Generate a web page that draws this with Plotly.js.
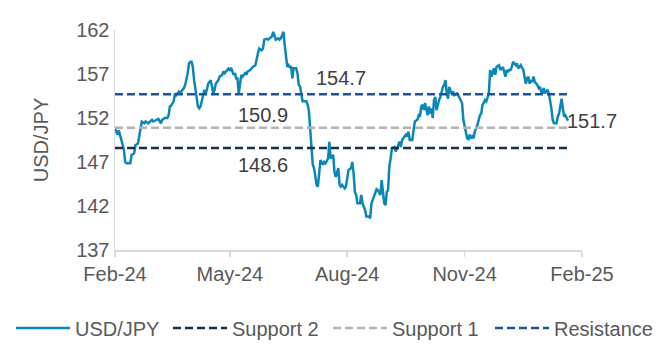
<!DOCTYPE html>
<html>
<head>
<meta charset="utf-8">
<script src="https://cdn.plot.ly/plotly-3.0.1.min.js"></script>
<style>
  html, body { margin: 0; padding: 0; background: #ffffff; }
  #chart { width: 657px; height: 362px; }
</style>
</head>
<body>
<div id="chart"></div>
<script>
// ---- data ----
var dates = [
  "2024-02-01","2024-02-03","2024-02-04","2024-02-05","2024-02-08","2024-02-09","2024-02-10","2024-02-13","2024-02-14","2024-02-16","2024-02-17","2024-02-19","2024-02-21","2024-02-22","2024-02-24","2024-02-25","2024-02-27","2024-02-29",
  "2024-03-01","2024-03-02","2024-03-04","2024-03-06","2024-03-08","2024-03-09","2024-03-11","2024-03-13","2024-03-14","2024-03-15","2024-03-16","2024-03-18","2024-03-19","2024-03-20","2024-03-22","2024-03-23","2024-03-24","2024-03-26","2024-03-27","2024-03-28","2024-03-29","2024-03-30","2024-03-31",
  "2024-04-01","2024-04-02","2024-04-03","2024-04-04","2024-04-05","2024-04-06","2024-04-07","2024-04-08","2024-04-09","2024-04-10","2024-04-11","2024-04-12","2024-04-13","2024-04-14","2024-04-16","2024-04-17","2024-04-18","2024-04-19","2024-04-20","2024-04-22","2024-04-23","2024-04-25","2024-04-26","2024-04-27","2024-04-29","2024-04-30",
  "2024-05-01","2024-05-02","2024-05-04","2024-05-05","2024-05-06","2024-05-07","2024-05-08","2024-05-09","2024-05-10","2024-05-11","2024-05-13","2024-05-14","2024-05-15","2024-05-17","2024-05-18","2024-05-19","2024-05-21","2024-05-22","2024-05-23","2024-05-24","2024-05-26","2024-05-27","2024-05-28","2024-05-30","2024-05-31",
  "2024-06-01","2024-06-03","2024-06-04","2024-06-05","2024-06-06","2024-06-08","2024-06-09","2024-06-10","2024-06-12","2024-06-13","2024-06-14","2024-06-15","2024-06-16","2024-06-17","2024-06-18","2024-06-19","2024-06-20","2024-06-22","2024-06-23","2024-06-24","2024-06-25","2024-06-26","2024-06-27","2024-06-30",
  "2024-07-01","2024-07-02","2024-07-04","2024-07-05","2024-07-06","2024-07-08","2024-07-09","2024-07-10","2024-07-11","2024-07-13","2024-07-14","2024-07-15","2024-07-17","2024-07-18","2024-07-19","2024-07-21","2024-07-22","2024-07-23","2024-07-25","2024-07-26","2024-07-27","2024-07-28","2024-07-30","2024-07-31",
  "2024-08-01","2024-08-02","2024-08-04","2024-08-05","2024-08-06","2024-08-07","2024-08-08","2024-08-09","2024-08-11","2024-08-12","2024-08-13","2024-08-14","2024-08-15","2024-08-16","2024-08-18","2024-08-19","2024-08-20","2024-08-21","2024-08-23","2024-08-24","2024-08-25","2024-08-27","2024-08-28","2024-08-29","2024-08-30","2024-08-31",
  "2024-09-01","2024-09-02","2024-09-03","2024-09-04","2024-09-05","2024-09-07","2024-09-08","2024-09-09","2024-09-11","2024-09-12","2024-09-13","2024-09-14","2024-09-16","2024-09-17","2024-09-18","2024-09-19","2024-09-21","2024-09-22","2024-09-23","2024-09-25","2024-09-26","2024-09-27","2024-09-28","2024-09-29","2024-09-30",
  "2024-10-01","2024-10-02","2024-10-03","2024-10-04","2024-10-05","2024-10-06","2024-10-07","2024-10-08","2024-10-09","2024-10-10","2024-10-11","2024-10-12","2024-10-13","2024-10-14","2024-10-15","2024-10-16","2024-10-17","2024-10-18","2024-10-19","2024-10-20","2024-10-21","2024-10-22","2024-10-23","2024-10-24","2024-10-26","2024-10-27","2024-10-29","2024-10-30","2024-10-31",
  "2024-11-01","2024-11-02","2024-11-03","2024-11-04","2024-11-05","2024-11-06","2024-11-07","2024-11-08","2024-11-09","2024-11-11","2024-11-12","2024-11-13","2024-11-14","2024-11-15","2024-11-16","2024-11-17","2024-11-18","2024-11-19","2024-11-20","2024-11-21","2024-11-22","2024-11-23","2024-11-24","2024-11-25","2024-11-26","2024-11-27","2024-11-28","2024-11-29",
  "2024-12-01","2024-12-03","2024-12-04","2024-12-05","2024-12-06","2024-12-07","2024-12-08","2024-12-09","2024-12-11","2024-12-12","2024-12-13","2024-12-14","2024-12-15","2024-12-17","2024-12-18","2024-12-19","2024-12-20","2024-12-21","2024-12-22","2024-12-23","2024-12-24","2024-12-25","2024-12-26","2024-12-27","2024-12-28","2024-12-29","2024-12-30","2024-12-31",
  "2025-01-01","2025-01-02","2025-01-03","2025-01-04","2025-01-05","2025-01-06","2025-01-07","2025-01-08","2025-01-09","2025-01-10","2025-01-11","2025-01-12","2025-01-13","2025-01-14","2025-01-15","2025-01-16","2025-01-17","2025-01-18","2025-01-19","2025-01-20","2025-01-21"
];
var usdjpy = [
  150.8,150.1,150.6,150.1,148.4,147.0,146.85,146.85,147.8,148.0,148.9,149.1,150.6,151.6,151.4,151.6,151.4,151.6,
  151.8,151.6,151.8,151.9,151.4,151.8,152.0,152.0,152.3,153.3,153.4,153.9,154.8,154.6,155.0,154.8,155.0,155.4,155.75,156.3,157.1,158.2,158.4,
  158.4,157.8,156.3,155.2,154.6,153.3,153.1,153.3,153.9,154.4,155.2,154.8,155.2,155.9,156.3,155.6,154.8,155.2,155.9,156.3,156.7,156.9,157.3,157.1,157.45,157.6,
  157.45,157.7,156.9,157.1,156.5,156.5,154.8,156.1,156.9,156.7,157.1,156.9,157.3,157.45,157.65,157.8,158.0,158.8,159.35,159.9,159.7,159.9,160.9,161.0,160.9,
  161.05,161.25,161.8,161.25,160.9,161.05,160.9,161.05,161.8,160.3,158.8,157.8,158.0,157.8,157.8,156.5,157.65,157.65,157.1,155.75,155.6,154.6,153.9,153.9,
  153.5,152.7,148.9,146.7,146.3,144.4,144.2,146.3,147.2,146.7,147.0,146.85,147.4,149.3,147.4,147.8,145.9,145.3,146.3,144.4,144.2,144.4,144.0,144.2,
  144.95,146.1,146.3,147.0,145.7,143.6,143.25,142.3,142.3,143.25,142.3,141.9,141.55,140.8,140.8,140.6,142.3,142.7,143.4,143.9,143.8,143.25,144.95,143.6,142.3,142.1,
  143.6,143.8,146.5,147.4,148.55,148.7,148.2,148.55,149.3,148.7,149.5,149.7,150.1,149.9,150.45,149.5,149.5,150.6,151.6,151.8,152.3,152.15,153.3,153.5,152.9,
  153.7,153.1,152.3,153.3,152.5,153.1,152.0,154.05,154.4,152.9,153.7,154.05,154.4,155.0,155.55,155.75,156.3,154.8,154.2,155.55,155.0,154.8,155.0,154.6,154.8,154.6,154.05,153.7,151.8,
  151.0,150.1,149.7,149.6,150.1,149.7,149.9,149.7,150.45,151.2,151.8,152.3,152.5,153.5,153.7,154.05,153.9,154.4,154.8,157.45,156.7,157.1,157.65,156.9,157.8,157.9,158.0,157.45,
  157.8,156.7,157.45,157.3,157.45,157.45,157.8,158.4,158.0,158.2,157.65,157.8,158.0,157.45,156.7,155.9,156.5,156.7,155.9,156.3,156.1,156.7,156.1,155.9,155.75,155.4,155.55,155.0,
  154.8,155.4,154.8,155.0,155.2,154.8,154.05,153.1,151.8,151.4,151.4,151.4,152.15,152.5,153.3,154.2,153.1,152.15,152.3,152.0,151.7
];
var levelDates = ["2024-02-01", "2025-01-21"];
var resistance = 154.7;
var support1 = 150.9;
var support2 = 148.6;
var lastValue = 151.7;
var tickDates = ["2024-02-01","2024-05-01","2024-08-01","2024-11-01","2025-02-01"];
var tickLabels = ["Feb-24","May-24","Aug-24","Nov-24","Feb-25"];
var yTicks = [137,142,147,152,157,162];

// ---- chart ----
var FONT = "Liberation Sans, Arial, sans-serif";
var TXT = "#595959";
var FS = 20;

var traces = [
  { x: dates, y: usdjpy, type: "scatter", mode: "lines", name: "USD/JPY", legend: "legend",
    line: { color: "#0A87B6", width: 2.5 } },
  { x: levelDates, y: [support2, support2], type: "scatter", mode: "lines", name: "Support 2", legend: "legend2",
    line: { color: "#17304A", width: 2.5, dash: "8px,4px" } },
  { x: levelDates, y: [support1, support1], type: "scatter", mode: "lines", name: "Support 1", legend: "legend3",
    line: { color: "#B3B3B3", width: 2.5, dash: "8px,4px" } },
  { x: levelDates, y: [resistance, resistance], type: "scatter", mode: "lines", name: "Resistance", legend: "legend4",
    line: { color: "#1F52A0", width: 2.5, dash: "8px,4px" } }
];

function legendAt(px) {
  return {
    orientation: "h", xref: "container", yref: "container",
    x: px / 657, xanchor: "left", y: 1 - 328 / 362, yanchor: "middle",
    font: { family: FONT, size: FS, color: TXT },
    itemwidth: 54, bgcolor: "rgba(0,0,0,0)", borderwidth: 0
  };
}

var layout = {
  width: 657, height: 362,
  margin: { l: 115, r: 75, t: 30, b: 112 },
  paper_bgcolor: "#ffffff", plot_bgcolor: "#ffffff",
  font: { family: FONT, size: FS, color: TXT },
  showlegend: true,
  legend: legendAt(11),
  legend2: legendAt(168),
  legend3: legendAt(328),
  legend4: legendAt(490),
  xaxis: {
    type: "date", range: ["2024-02-01", "2025-02-01"],
    tickmode: "array", tickvals: tickDates, ticktext: tickLabels,
    showgrid: false, zeroline: false,
    showline: true, linecolor: "#D9D9D9", linewidth: 1.5,
    ticks: "outside", ticklen: 5, tickcolor: "#D9D9D9", tickwidth: 1.5,
    tickfont: { family: FONT, size: FS, color: TXT }, fixedrange: true
  },
  yaxis: {
    range: [137, 162], tickmode: "array", tickvals: yTicks,
    showgrid: false, zeroline: false,
    showline: true, linecolor: "#D9D9D9", linewidth: 1.5, ticks: "",
    tickfont: { family: FONT, size: FS, color: TXT },
    title: { text: "USD/JPY", font: { family: FONT, size: FS, color: TXT }, standoff: 22 },
    fixedrange: true
  },
  annotations: [
    { xref: "paper", yref: "y", x: 0.485, y: 156.6, text: String(resistance), showarrow: false,
      xanchor: "center", yanchor: "middle", font: { family: FONT, size: FS, color: "#404040" } },
    { xref: "paper", yref: "y", x: 0.316, y: 152.3, text: String(support1), showarrow: false,
      xanchor: "center", yanchor: "middle", font: { family: FONT, size: FS, color: "#404040" } },
    { xref: "paper", yref: "y", x: 0.316, y: 146.7, text: String(support2), showarrow: false,
      xanchor: "center", yanchor: "middle", font: { family: FONT, size: FS, color: "#404040" } },
    { xref: "x", yref: "y", x: levelDates[1], y: lastValue, text: String(lastValue), showarrow: false,
      xanchor: "left", yanchor: "middle", xshift: -3, font: { family: FONT, size: FS, color: "#404040" } }
  ]
};

Plotly.newPlot("chart", traces, layout, { displayModeBar: false, staticPlot: true });
</script>
</body>
</html>
